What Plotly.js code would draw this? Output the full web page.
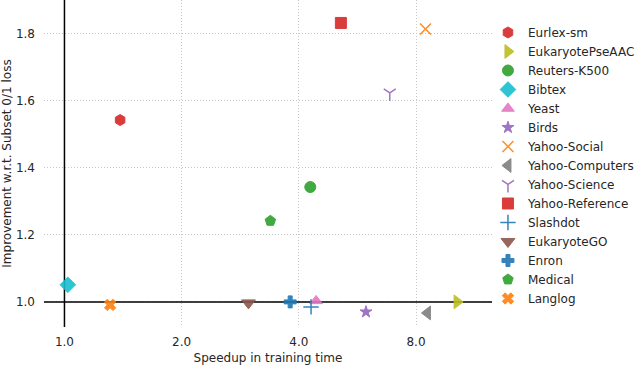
<!DOCTYPE html>
<html>
<head>
<meta charset="utf-8">
<script src="https://cdn.plot.ly/plotly-3.0.1.min.js"></script>
<style>html,body{margin:0;padding:0;background:#fff}</style>
</head>
<body>
<div id="chart" style="width:640px;height:365px"></div>
<script>
// datasets, speedup (x) and improvement (y)
var names = ["Eurlex-sm", "EukaryotePseAAC", "Reuters-K500", "Bibtex", "Yeast", "Birds",
  "Yahoo-Social", "Yahoo-Computers", "Yahoo-Science", "Yahoo-Reference", "Slashdot",
  "EukaryoteGO", "Enron", "Medical", "Langlog"];
var speedup = [1.39, 10.2, 4.28, 1.02, 4.43, 5.95, 8.46, 8.56, 6.85, 5.13, 4.30, 2.97, 3.80, 3.38, 1.31];
var improvement = [1.543, 1.0, 1.343, 1.051, 1.003, 0.970, 1.815, 0.967, 1.624, 1.833, 0.985, 0.997, 1.0, 1.242, 0.991];

var symbols = ["hexagon", "triangle-right", "circle", "diamond", "triangle-up", "star",
  "x-thin-open", "triangle-left", "y-down-open", "square", "cross-thin-open",
  "triangle-down", "cross", "pentagon", "x"];
var colors = ["#d62728", "#bcbd22", "#2ca02c", "#17becf", "#e377c2", "#9467bd",
  "#ff7f0e", "#7f7f7f", "#9467bd", "#d62728", "#1f77b4",
  "#8c564b", "#1f77b4", "#2ca02c", "#ff7f0e"];
var sizes = [11, 12, 11, 12, 11, 9, 11, 12, 10, 11, 11, 12, 10, 11, 10];

var xticks = [1, 2, 4, 8];
var xticklabels = ["1.0", "2.0", "4.0", "8.0"];
var yticks = [1.0, 1.2, 1.4, 1.6, 1.8];

// axis ranges and the two baseline lines (speedup = 1, improvement = 1)
var xRange = [0.886, 12.54];
var yRange = [0.925, 1.9015];
var baseX = 1, baseY = 1;

var data = [
  {type: "scatter", mode: "lines", x: [baseX, baseX], y: yRange, showlegend: false,
    line: {color: "#000", width: 1.5}, hoverinfo: "skip", cliponaxis: false},
  {type: "scatter", mode: "lines", x: xRange, y: [baseY, baseY], showlegend: false,
    line: {color: "#000", width: 1.5}, hoverinfo: "skip", cliponaxis: false}
];

names.forEach(function (n, i) {
  var thin = symbols[i].indexOf("open") >= 0;
  data.push({
    type: "scatter",
    mode: "markers",
    name: n,
    x: [speedup[i]],
    y: [improvement[i]],
    marker: {
      symbol: symbols[i],
      size: sizes[i],
      color: colors[i],
      opacity: 0.9,
      line: thin ? {color: colors[i], width: 1.5} : {color: colors[i], width: 1}
    }
  });
});

var layout = {
  width: 640,
  height: 365,
  margin: {l: 44, r: 145, t: 0, b: 38},
  paper_bgcolor: "#fff",
  plot_bgcolor: "#fff",
  font: {family: "DejaVu Sans", size: 12, color: "#262626"},
  showlegend: true,
  legend: {x: 0.991, xanchor: "left", y: 0.945, yanchor: "top", font: {size: 12},
    bgcolor: "rgba(0,0,0,0)", itemsizing: "trace"},
  xaxis: {
    type: "log",
    range: xRange.map(Math.log10),
    tickvals: xticks,
    ticktext: xticklabels,
    showgrid: true, gridcolor: "#c8c8c8", griddash: "1px,2px", gridwidth: 1,
    showline: false, zeroline: false, ticks: "", ticklabelstandoff: 6,
    title: {text: "Speedup in training time", font: {size: 12}, standoff: 7}
  },
  yaxis: {
    range: yRange,
    tickvals: yticks,
    ticktext: yticks.map(function (v) { return v.toFixed(1); }),
    showgrid: true, gridcolor: "#c8c8c8", griddash: "1px,2px", gridwidth: 1,
    showline: false, zeroline: false, ticks: "", ticklabelstandoff: 8,
    title: {text: "Improvement w.r.t. Subset 0/1 loss", font: {size: 12}, standoff: 6}
  }
};

Plotly.newPlot("chart", data, layout, {staticPlot: true});
</script>
</body>
</html>
